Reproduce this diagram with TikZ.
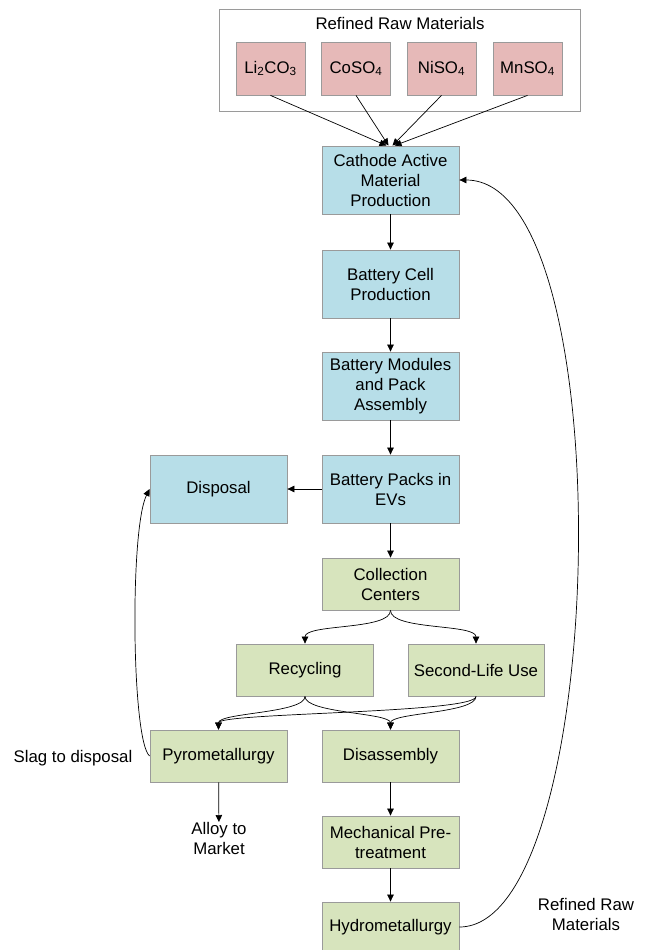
\documentclass[tikz,border=0pt]{standalone}
\usepackage{fontspec}
\setmainfont{Liberation Sans}
\usetikzlibrary{arrows.meta,calc}
\definecolor{bluefill}{HTML}{B7DEE8}
\definecolor{pinkfill}{HTML}{E6B9B8}
\definecolor{greenfill}{HTML}{D7E4BD}
\definecolor{boxline}{HTML}{9A9A9A}
\begin{document}
\begin{tikzpicture}[x=1pt,y=1pt,
  font=\fontsize{16.8}{20}\selectfont,
  box/.style={draw=boxline,line width=0.8pt,align=center,inner sep=0pt,minimum width=137pt,minimum height=68pt},
  bluebox/.style={box,fill=bluefill},
  greenbox/.style={box,fill=greenfill,minimum height=52pt},
  matbox/.style={draw=boxline,line width=0.8pt,fill=pinkfill,inner sep=0pt,minimum width=69pt,minimum height=53pt},
  conn/.style={draw=black,line width=0.7pt,-{Triangle[length=7pt,width=6.5pt]}},
  lbl/.style={align=center,inner sep=0pt}]
\useasboundingbox (0,0) rectangle (646,-950);
% top group
\node[draw=boxline,line width=0.8pt,minimum width=361pt,minimum height=102pt,inner sep=0pt] (group) at (399.5,-60) {};
\node[lbl] (grouptitle) at (400,-23) {Refined Raw Materials};
\node[matbox] (li) at (270.5,-68.5) {Li\textsubscript{2}CO\textsubscript{3}};
\node[matbox] (co) at (356,-68.5) {CoSO\textsubscript{4}};
\node[matbox] (ni) at (441.5,-68.5) {NiSO\textsubscript{4}};
\node[matbox] (mn) at (527.5,-68.5) {MnSO\textsubscript{4}};
% main column
\node[bluebox] (cathode) at (390.5,-180) {Cathode Active\\Material\\Production};
\node[bluebox] (cell) at (390.5,-284) {Battery Cell\\Production};
\node[bluebox] (modules) at (390.5,-386) {Battery Modules\\and Pack\\Assembly};
\node[bluebox] (packs) at (390.5,-489) {Battery Packs in\\EVs};
\node[bluebox] (disposal) at (218.5,-489) {Disposal};
\node[greenbox] (collection) at (390.5,-584) {Collection\\Centers};
\node[greenbox] (recycling) at (305,-670) {Recycling};
\node[greenbox,minimum width=136pt] (second) at (476,-670) {Second-Life Use};
\node[greenbox] (pyro) at (218.5,-756) {Pyrometallurgy};
\node[greenbox] (disassembly) at (390.5,-756) {Disassembly};
\node[greenbox] (mech) at (390.5,-842) {Mechanical Pre-\\treatment};
\node[greenbox,minimum height=50pt] (hydro) at (390.5,-927) {Hydrometallurgy};
% labels
\node[lbl] (slag) at (73,-758) {Slag to disposal};
\node[lbl,anchor=north] (alloy) at (219,-822) {Alloy to\\Market};
\node[lbl] (refined) at (586,-914) {Refined Raw\\Materials};
% connectors
\draw[conn] (li.south) -- ($(cathode.north)+(-4,0)$);
\draw[conn] (co.south) -- ($(cathode.north)+(-2,0)$);
\draw[conn] (ni.south) -- ($(cathode.north)+(2,0)$);
\draw[conn] (mn.south) -- ($(cathode.north)+(4,0)$);
\draw[conn] (cathode) -- (cell);
\draw[conn] (cell) -- (modules);
\draw[conn] (modules) -- (packs);
\draw[conn] (packs) -- (collection);
\draw[conn] (packs) -- (disposal);
\draw[conn] (collection.south) to[out=-90,in=90,distance=20pt] (recycling.north);
\draw[conn] (collection.south) to[out=-90,in=90,distance=20pt] (second.north);
\draw[conn] (recycling.south) to[out=-90,in=90,distance=17pt] (pyro.north);
\draw[conn] (recycling.south) to[out=-90,in=90,distance=17pt] (disassembly.north);
\draw[conn] (second.south) to[out=-90,in=90,distance=17pt] (pyro.north);
\draw[conn] (second.south) to[out=-90,in=90,distance=17pt] (disassembly.north);
\draw[conn] (pyro) -- (alloy);
\draw[conn] (disassembly) -- (mech);
\draw[conn] (mech) -- (hydro);
\draw[conn] (pyro.west) .. controls +(-18,15) and +(-20,-40) .. (disposal.west);
\draw[conn] (hydro.east) .. controls +(150,0) and +(165,0) .. (cathode.east);
\end{tikzpicture}
\end{document}
